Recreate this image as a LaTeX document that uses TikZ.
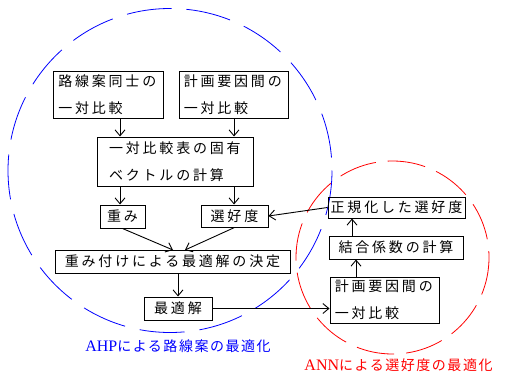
\documentclass[tikz,border=0pt]{standalone}
\usepackage{fontspec}
\usetikzlibrary{arrows.meta,calc}
\newfontfamily\jp[LetterSpace=20]{Noto Sans CJK JP}
\newfontfamily\jpl[LetterSpace=11]{Noto Sans CJK JP}
\newfontfamily\tms{Liberation Serif}
\begin{document}
\begin{tikzpicture}[x=1pt,y=-1pt,
  box/.style={draw,line width=1pt,inner sep=0pt,minimum height=#1,font=\jp\fontsize{14}{27}\selectfont},
  two/.style={align=left},
  arr/.style={-{Straight Barb[length=6pt,width=10pt]},line width=0.9pt},
  lab/.style={font=\jpl\fontsize{14}{16}\selectfont}]
\useasboundingbox (0,0) rectangle (505,377);
\draw[blue,line width=0.8pt,dash pattern=on 45pt off 15pt] (170,170.5) circle (162);
\draw[red,line width=0.8pt,dash pattern=on 38pt off 12pt] (392.5,257.5) circle (96.5);
\node[box=46pt,minimum width=110pt,two] (b1) at (108,95) {路線案同士の\\一対比較\hspace*{35pt}};
\node[box=46pt,minimum width=109pt,two] (b2) at (233.5,95) {計画要因間の\\一対比較\hspace*{35pt}};
\node[box=49pt,minimum width=156pt,two] (b3) at (175,161.5) {一対比較表の固有\\ベクトルの計算\hspace*{17pt}};
\node[box=23pt,minimum width=45pt] (b4) at (122.5,216.5) {重み};
\node[box=22pt,minimum width=67pt] (b5) at (234.5,216) {選好度};
\node[box=23pt,minimum width=235pt] (b6) at (172.5,261.5) {重み付けによる最適解の決定};
\node[box=23pt,minimum width=68pt] (b7) at (178,308.5) {最適解};
\node[box=21pt,minimum width=137pt] (b8) at (396.5,207.5) {正規化した選好度};
\node[box=23pt,minimum width=134pt] (b9) at (396,247.5) {結合係数の計算};
\node[box=46pt,minimum width=109pt,two] (b10) at (384.5,300) {計画要因間の\\一対比較\hspace*{35pt}};
\coordinate (xl) at (120,0);
\coordinate (xr) at (234,0);
\draw[arr] (xl |- b1.south) -- (xl |- b3.north);
\draw[arr] (xr |- b2.south) -- (xr |- b3.north);
\draw[arr] (xl |- b3.south) -- (xl |- b4.north);
\draw[arr] (xr |- b3.south) -- (xr |- b5.north);
\draw[arr] (b4.south) -- (173,250);
\draw[arr] (b5.south) -- (185,250);
\draw[arr] (b6.south -| b7.north) -- (b7.north);
\draw[arr] (b7.east) -- (b7.east -| b10.west);
\draw[arr] (b8.west) -- (b5.east);
\coordinate (xa) at (352,0);
\coordinate (xb) at (356,0);
\draw[arr] (xa |- b9.north) -- (xa |- b8.south);
\draw[arr] (xb |- b10.north) -- (xb |- b9.south);
\node[lab,text=blue] (l1) at (178,346) {{\tms\fontsize{16}{16}\selectfont AHP}による路線案の最適化};
\node[lab,text=red] (l2) at (398.5,365) {{\tms\fontsize{16}{16}\selectfont ANN}による選好度の最適化};
\end{tikzpicture}
\end{document}
